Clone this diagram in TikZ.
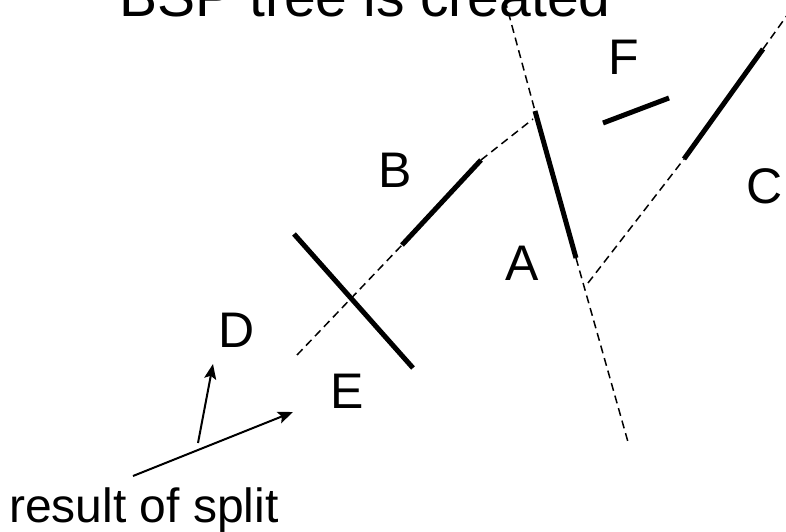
\documentclass[tikz,border=0pt]{standalone}
\usepackage{fontspec}
\setmainfont{Liberation Sans}
\usetikzlibrary{arrows.meta}
\begin{document}
\begin{tikzpicture}[x=1pt,y=-1pt,
  seg/.style={line width=5pt},
  cut/.style={line width=1.5pt, dash pattern=on 8pt off 5pt},
  lbl/.style={anchor=base, inner sep=0pt, font=\fontsize{50}{60}\selectfont},
  ptr/.style={line width=2pt, -{Stealth[length=15pt,width=12pt,inset=3pt]}}]
\useasboundingbox (0,0) rectangle (786,532);
% endpoints
\coordinate (Aup) at (505,0);
\coordinate (Atop) at (535,111);
\coordinate (Abot) at (576,258);
\coordinate (Adown) at (628,442);
\coordinate (Blow) at (297,355);
\coordinate (Bs) at (402,245);
\coordinate (Be) at (481,160);
\coordinate (Bup) at (533,119);
\coordinate (Clow) at (588,283);
\coordinate (Cs) at (684,159);
\coordinate (Ce) at (763,49);
\coordinate (Cup) at (788,14);
\coordinate (Fs) at (603,123);
\coordinate (Fe) at (669,98);
\coordinate (DEs) at (294,234);
\coordinate (DEe) at (413,368);
\coordinate (t1) at (198,443);
\coordinate (h1) at (213,364);
\coordinate (t2) at (133,476);
\coordinate (h2) at (293,412);
% dashed split lines
\draw[cut] (Aup) -- (Atop);
\draw[cut] (Abot) -- (Adown);
\draw[cut] (Blow) -- (Bs);
\draw[cut] (Be) -- (Bup);
\draw[cut] (Clow) -- (Cs);
\draw[cut] (Ce) -- (Cup);
% solid segments
\draw[seg] (Atop) -- (Abot);
\draw[seg] (Bs) -- (Be);
\draw[seg] (Cs) -- (Ce);
\draw[seg] (Fs) -- (Fe);
\draw[seg] (DEs) -- (DEe);
% labels
\node[anchor=base, inner sep=0pt, font=\fontsize{57}{66}\selectfont] (title) at (365,17) {BSP tree is created};
\node[lbl] (la) at (522,280) {A};
\node[lbl] (lb) at (395,187) {B};
\node[lbl] (lc) at (765,203) {C};
\node[lbl] (ld) at (237,347) {D};
\node[lbl] (le) at (347,408) {E};
\node[lbl] (lf) at (624,75) {F};
\node[anchor=base west, inner sep=0pt, font=\fontsize{48}{56}\selectfont] (split) at (9,522) {result of split};
% pointers
\draw[ptr] (t1) -- (h1);
\draw[ptr] (t2) -- (h2);
\end{tikzpicture}
\end{document}
